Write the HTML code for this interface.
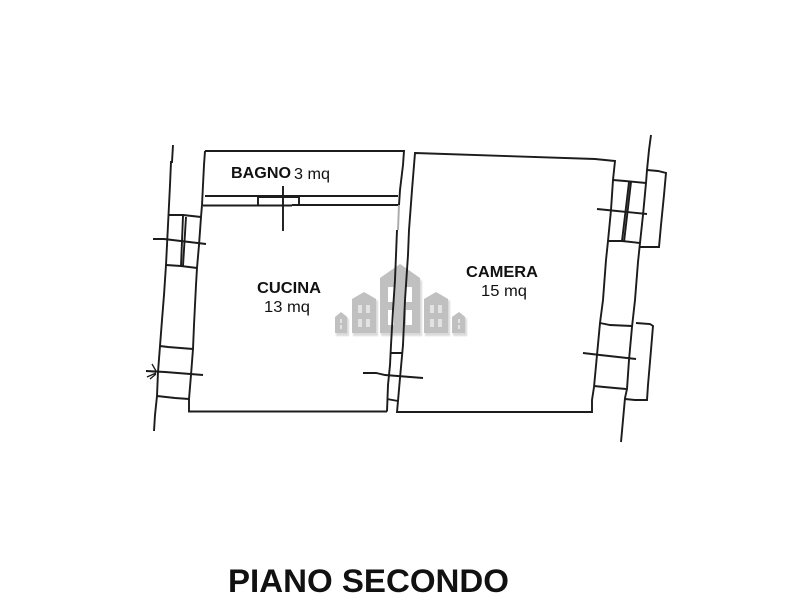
<!DOCTYPE html>
<html><head><meta charset="utf-8"><style>
html,body{margin:0;padding:0;background:#fff}
svg{display:block}
text{font-family:"Liberation Sans",sans-serif;fill:#111}
.b{font-weight:bold}
</style></head><body>
<svg width="800" height="600" viewBox="0 0 800 600" xmlns="http://www.w3.org/2000/svg">
<defs>
<filter id="s" x="-10%" y="-10%" width="130%" height="130%"><feGaussianBlur stdDeviation="0.8"/></filter>
<filter id="t" x="-5%" y="-5%" width="110%" height="110%"><feGaussianBlur stdDeviation="0.35"/></filter>
</defs>
<!-- logo -->
<g fill="#b4b4b4" filter="url(#s)" transform="translate(1,1)" opacity=".5">
<path d="M380 280L400 264L421 280V335H380Z"/><path d="M352 300L364 292L377 300V335H352Z"/><path d="M424 300L436 292L449 300V335H424Z"/><path d="M335 318L341 312L348 318V335H335Z"/><path d="M452 318L459 312L466 318V335H452Z"/>
</g>
<g fill="#c0c0c0">
<path d="M380 278L400 264L420 278V333H380Z"/><path d="M352 299L364 292L376 299V333H352Z"/><path d="M424 299L436 292L448 299V333H424Z"/><path d="M335 317L341 312L347 317V333H335Z"/><path d="M452 317L459 312L465 317V333H452Z"/>
</g>
<g fill="#fff">
<rect x="388" y="287" width="6" height="15"/><rect x="406" y="287" width="6" height="15"/><rect x="388" y="310" width="6" height="15"/><rect x="406" y="310" width="6" height="15"/>
</g>
<g fill="#e2e2e2">
<rect x="358" y="305" width="4" height="8"/><rect x="366" y="305" width="4" height="8"/><rect x="358" y="319" width="4" height="8"/><rect x="366" y="319" width="4" height="8"/>
<rect x="430" y="305" width="4" height="8"/><rect x="438" y="305" width="4" height="8"/><rect x="430" y="319" width="4" height="8"/><rect x="438" y="319" width="4" height="8"/>
<rect x="340" y="319" width="2" height="4"/><rect x="340" y="325" width="2" height="4"/><rect x="458" y="319" width="2" height="4"/><rect x="458" y="325" width="2" height="4"/>
</g>
<!-- walls -->
<g fill="none" stroke="#1a1a1a" stroke-width="1.900" filter="url(#t)">
<path d="M173 145L172 162L171 162L170 185L169 205L168 225L166 265L164 295L162 320L160 346L158 372L157 396L155 415L154 431"/>
<path d="M205 151H404L403 165L400 190L399 205"/>
<path d="M205 151L204 165L203 185L202 205L201 217L199 245L197 268L196 285L195 305L194 325L193 349L191 375L189 399V411.500H387"/>
<path d="M205 196H398M203 205.500H292M292 205H399"/>
<path d="M258 196V205M299 196V205"/>
<path d="M283 186V231M259 197H299"/>
<path d="M387 411.500L388 385L390 365L391 345L393 310L395 280L396 255L397 230"/>
<path d="M399 205L398 230" stroke="#aaa"/>
<path d="M415 153L595 159L615 161L613 180L611 210L608 241L606 260L603 300L600 323L597 355L594 387L592 400V412H397L398 401L400 378L403 345L405 300L408 255L409 230L412 190Z"/>
<path d="M391 353H403M387 399L398 401M363 373L376 373L385 375L423 378"/>
<path d="M169 215H183L201 217M166 265L181 266L197 268"/>
<path d="M183 216L181 266M186 217L183 266"/>
<path d="M153 239L164 239L206 244"/>
<path d="M160 346L168 347L193 349M146 371L165 372L203 375M157 396L175 398L189 399"/>
<path d="M146 371L156 372M147 377L156 373M152 364L156 371M150 379L156 374" stroke-width="1.300"/>
<path d="M651 135L649 150L647 170L646 183L643 215L640 243L638 262L635 300L632 327L629 360L627 389L625 398L623 420L621 442"/>
<path d="M647 170L658 171L666 173L664 195L661 225L659 247H650L640 247"/>
<path d="M613 180L625 181L646 183M608 241L622 241L640 243"/>
<path d="M629 182L622 241M631 182L624 242"/>
<path d="M597 209L607 210L647 214"/>
<path d="M600 323L610 325L632 326M636 323L650 324L653 326L651 350L648 385L647 400H635L625 399"/>
<path d="M583 353L600 355L636 359M594 386L604 387L626 389"/>
</g>
<!-- text -->
<text class="b" x="231" y="178" font-size="16" textLength="60" lengthAdjust="spacingAndGlyphs">BAGNO</text>
<text x="294" y="179" font-size="16" textLength="36" lengthAdjust="spacingAndGlyphs">3 mq</text>
<text class="b" x="257" y="293" font-size="16" textLength="64" lengthAdjust="spacingAndGlyphs">CUCINA</text>
<text x="264" y="312" font-size="16" textLength="46" lengthAdjust="spacingAndGlyphs">13 mq</text>
<text class="b" x="466" y="277" font-size="16" textLength="72" lengthAdjust="spacingAndGlyphs">CAMERA</text>
<text x="481" y="296" font-size="16" textLength="46" lengthAdjust="spacingAndGlyphs">15 mq</text>
<text class="b" x="228" y="592" font-size="32" textLength="281" lengthAdjust="spacingAndGlyphs">PIANO SECONDO</text>
</svg>
</body></html>
